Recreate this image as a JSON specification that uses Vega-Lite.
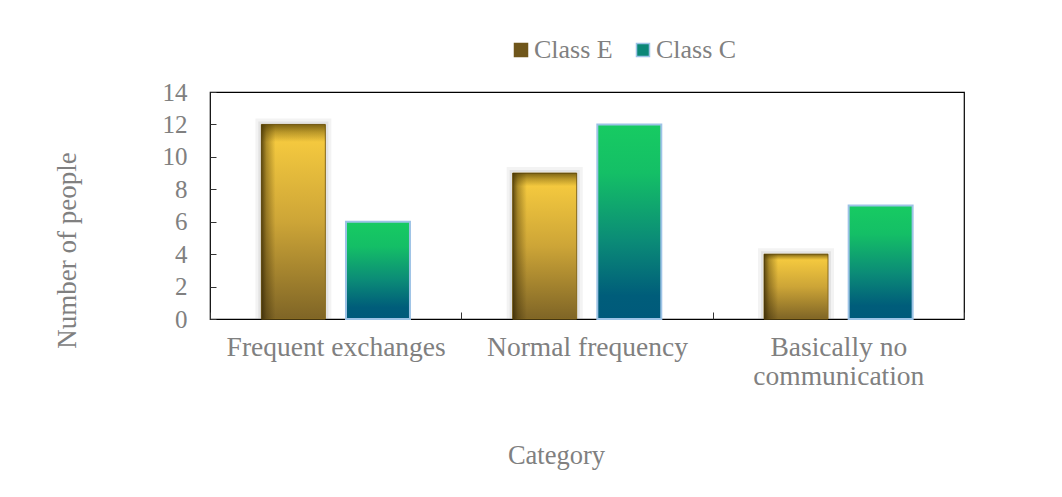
{
  "$schema": "https://vega.github.io/schema/vega-lite/v6.json",
  "autosize": "none",
  "width": 754,
  "height": 227,
  "padding": {"left": 210, "top": 92, "right": 98, "bottom": 178},
  "background": "white",
  "config": {
    "font": "Liberation Serif",
    "view": {"stroke": "#000000", "strokeWidth": 1.2},
    "axis": {
      "labelFont": "Liberation Serif",
      "titleFont": "Liberation Serif",
      "labelColor": "#808080",
      "titleColor": "#808080",
      "titleFontWeight": "normal",
      "domain": false,
      "grid": false,
      "tickColor": "#333333"
    },
    "legend": {
      "labelFont": "Liberation Serif",
      "labelColor": "#808080"
    }
  },
  "data": {
    "values": [
      {"category": "Frequent exchanges", "group": "Class E", "people": 12},
      {"category": "Frequent exchanges", "group": "Class C", "people": 6},
      {"category": "Normal frequency", "group": "Class E", "people": 9},
      {"category": "Normal frequency", "group": "Class C", "people": 12},
      {"category": "Basically no communication", "group": "Class E", "people": 4},
      {"category": "Basically no communication", "group": "Class C", "people": 7}
    ]
  },
  "encoding": {
    "x": {
      "field": "category",
      "type": "nominal",
      "sort": null,
      "scale": {"paddingInner": 0, "paddingOuter": 0},
      "axis": {
        "title": "Category",
        "titleFontSize": 26.5,
        "titleX": 346,
        "titleY": 144,
        "titleBaseline": "alphabetic",
        "titleAnchor": null,
        "labelAngle": 0,
        "labelFontSize": 27.5,
        "labelBaseline": "top",
        "labelLineHeight": 29,
        "labelPadding": 21,
        "labelLimit": 400,
        "tickBand": "extent",
        "tickSize": -7,
        "labelExpr": "datum.value == 'Basically no communication' ? ['Basically no', 'communication'] : datum.value"
      }
    },
    "xOffset": {
      "field": "group",
      "type": "nominal",
      "sort": ["Class E", "Class C"],
      "scale": {"paddingInner": 0.244, "paddingOuter": 0.607}
    },
    "y": {
      "field": "people",
      "type": "quantitative",
      "scale": {"domain": [0, 14]},
      "axis": {
        "title": "Number of people",
        "titleFontSize": 27,
        "titleAngle": -90,
        "titleX": -135,
        "titleY": 158,
        "titleBaseline": "alphabetic",
        "titleAlign": "center",
        "titleAnchor": null,
        "values": [0, 2, 4, 6, 8, 10, 12, 14],
        "labelFontSize": 25,
        "labelPadding": 29,
        "tickSize": -6
      }
    }
  },
  "layer": [
    {
      "transform": [{"filter": "datum.group == 'Class C'"}],
      "mark": {"type": "bar", "fill": "#bdbdbd", "opacity": 0.85, "xOffset": 7, "yOffset": 7, "clip": true}
    },
    {
      "transform": [{"filter": "datum.group == 'Class E'"}],
      "mark": {"type": "bar", "fill": "transparent", "stroke": "#9a9a9a", "strokeWidth": 12, "strokeOpacity": 0.12, "clip": true}
    },
    {
      "transform": [{"filter": "datum.group == 'Class E'"}],
      "mark": {"type": "bar", "fill": "transparent", "stroke": "#9a9a9a", "strokeWidth": 6, "strokeOpacity": 0.18, "clip": true}
    },
    {
      "mark": {"type": "bar"},
      "encoding": {
        "color": {
          "field": "group",
          "type": "nominal",
          "scale": {"domain": ["Class E", "Class C"], "range": ["#6f561b", "#0b8777"]},
          "legend": {
            "title": null,
            "orient": "none",
            "direction": "horizontal",
            "legendX": 298,
            "legendY": -55,
            "padding": 0,
            "symbolType": "square",
            "symbolSize": 169,
            "symbolOpacity": 1,
            "labelFontSize": 26,
            "labelOffset": 0,
            "columnPadding": 17,
            "encode": {
              "symbols": {
                "update": {
                  "stroke": {"signal": "datum.value === 'Class C' ? '#9dc3e6' : '#6f561b'"},
                  "strokeWidth": {"value": 1.5}
                }
              }
            }
          }
        }
      }
    },
    {
      "transform": [{"filter": "datum.group == 'Class E'"}],
      "mark": {
        "type": "bar",
        "stroke": "#8a6d1f",
        "strokeWidth": 1,
        "fill": {
          "gradient": "linear",
          "x1": 0, "y1": 0, "x2": 0, "y2": 1,
          "stops": [
            {"offset": 0, "color": "#fcd040"},
            {"offset": 0.5, "color": "#cda537"},
            {"offset": 1, "color": "#7f6526"}
          ]
        }
      }
    },
    {
      "transform": [{"filter": "datum.group == 'Class E'"}],
      "mark": {
        "type": "bar",
        "fill": {
          "gradient": "linear",
          "x1": 0, "y1": 0, "x2": 1, "y2": 0,
          "stops": [
            {"offset": 0, "color": "rgba(45,32,0,0.75)"},
            {"offset": 0.08, "color": "rgba(45,32,0,0.35)"},
            {"offset": 0.22, "color": "rgba(45,32,0,0)"},
            {"offset": 1, "color": "rgba(45,32,0,0)"}
          ]
        }
      }
    },
    {
      "transform": [{"filter": "datum.group == 'Class E'"}],
      "mark": {
        "type": "bar",
        "fill": {
          "gradient": "linear",
          "x1": 0, "y1": 0, "x2": 0, "y2": 1,
          "stops": [
            {"offset": 0, "color": "rgba(70,52,0,0.7)"},
            {"offset": 0.04, "color": "rgba(70,52,0,0.35)"},
            {"offset": 0.09, "color": "rgba(70,52,0,0)"},
            {"offset": 1, "color": "rgba(70,52,0,0)"}
          ]
        }
      }
    },
    {
      "transform": [{"filter": "datum.group == 'Class C'"}],
      "mark": {
        "type": "bar",
        "stroke": "#9dc3e6",
        "strokeWidth": 2,
        "fill": {
          "gradient": "linear",
          "x1": 0, "y1": 0, "x2": 0, "y2": 1,
          "stops": [
            {"offset": 0, "color": "#17cb62"},
            {"offset": 0.25, "color": "#14bf66"},
            {"offset": 0.6, "color": "#0b8b77"},
            {"offset": 0.88, "color": "#005d7a"},
            {"offset": 1, "color": "#005a7b"}
          ]
        }
      }
    }
  ]
}
